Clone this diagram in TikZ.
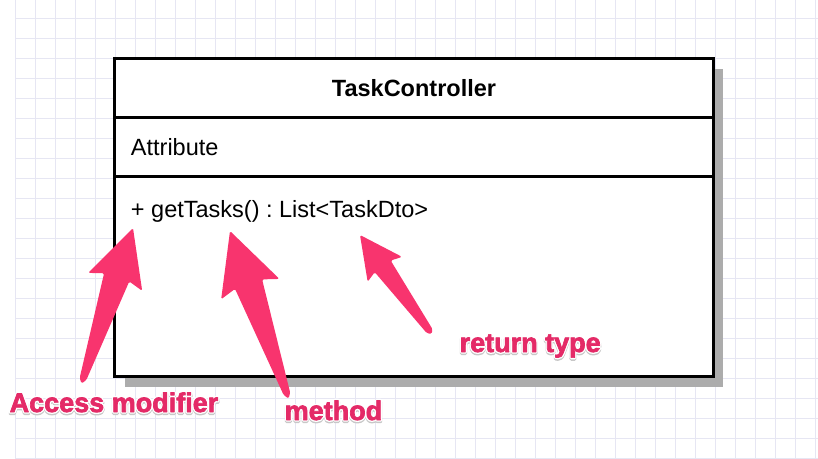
\documentclass[tikz,border=0pt]{standalone}
\usepackage{fontspec}
\setmainfont{Liberation Sans}
\usetikzlibrary{positioning,calc,backgrounds}
\frenchspacing

\definecolor{gridblue}{RGB}{230,230,243}
\definecolor{arrowpink}{RGB}{248,52,110}
\definecolor{labelpink}{RGB}{228,42,103}
\definecolor{shadowgray}{RGB}{172,172,172}

% white outline (and a faint shadow) round the pink notes
\newcommand{\halo}[1]{%
  \rlap{\raisebox{-1.5pt}{\special{pdf:literal direct 1 Tr 3.4 w 1 j 0.78 0.78 0.78 RG}#1}}%
  \rlap{\special{pdf:literal direct 1 Tr 3.4 w 1 j 1 1 1 RG}#1}%
  \special{pdf:literal direct 2 Tr 0.7 w 0.894 0.165 0.404 RG}#1%
  \special{pdf:literal direct 0 Tr}}

% tapered note arrow: #1 tip, #2 tail
\newcommand{\skitcharrow}[2]{%
  \fill[arrowpink, rounded corners=1.5pt] (#1)
    -- ($(#1)!0.35!(#2)!0.27!90:(#2)$)
    -- ($(#1)!0.32!(#2)!0.12!90:(#2)$)
    -- ($(#1)!0.98!(#2)!3.5pt!90:(#2)$)
    -- ($(#1)!1.01!(#2)$)
    -- ($(#1)!0.98!(#2)!3.5pt!-90:(#2)$)
    -- ($(#1)!0.32!(#2)!0.12!-90:(#2)$)
    -- ($(#1)!0.35!(#2)!0.27!-90:(#2)$)
    -- cycle;}

\begin{document}
\begin{tikzpicture}
  [x=1pt,y=-1pt,
   compartment/.style={rectangle, draw, line width=3pt, fill=white, minimum width=598.5pt, outer sep=0pt, inner sep=0pt},
   member/.style={inner sep=0pt, font=\fontsize{23.5}{28}\selectfont},
   note/.style={inner sep=0pt, text=labelpink, font=\fontsize{27}{31}\selectfont\bfseries}]
  \tikzset{
    gridline/.style={draw=gridblue, line width=1pt},
    boxshadow/.style={fill=shadowgray}
  }
  \useasboundingbox (0,0) rectangle (818,458);

  % class box
  \node [compartment, minimum height=59pt, font=\fontsize{23.5}{28}\selectfont\bfseries] (head) at (414,88) {TaskController};
  \node [compartment, minimum height=59pt, below=0pt of head] (attrs) {};
  \node [compartment, minimum height=200pt, below=0pt of attrs] (ops) {};
  \node [member, anchor=west] (attr) at ([xshift=16pt]attrs.west) {Attribute};
  \node [member, anchor=base west] (op) at ([xshift=16pt,yshift=-40.5pt]ops.north west) {+ getTasks() : List<TaskDto>};

  % paper grid and shadow
  \begin{scope}[on background layer]
    \foreach \x in {15,35,...,815} \draw [gridline] (\x,0) -- (\x,458);
    \foreach \y in {18,38,...,458} \draw [gridline] (15,\y) -- (818,\y);
    \fill [boxshadow] ([shift={(10pt,-10pt)}]head.north west) rectangle ([shift={(10pt,-10pt)}]ops.south east);
  \end{scope}

  % notes
  \node [note, anchor=base west] (access) at (9.5,412) {\halo{Access modifier}};
  \node [note, anchor=base west] (method) at (284.5,420) {\halo{method}};
  \node [note, anchor=base west] (rettype) at (459.5,352) {\halo{return type}};

  \coordinate (accesstip) at (133,228);
  \coordinate (accesstail) at (82,382);
  \coordinate (methodtip) at (230,231);
  \coordinate (methodtail) at (288,397);
  \coordinate (rettip) at (360,235);
  \coordinate (rettail) at (431,333);

  \skitcharrow{accesstip}{accesstail}
  \skitcharrow{methodtip}{methodtail}
  \skitcharrow{rettip}{rettail}
\end{tikzpicture}
\end{document}
